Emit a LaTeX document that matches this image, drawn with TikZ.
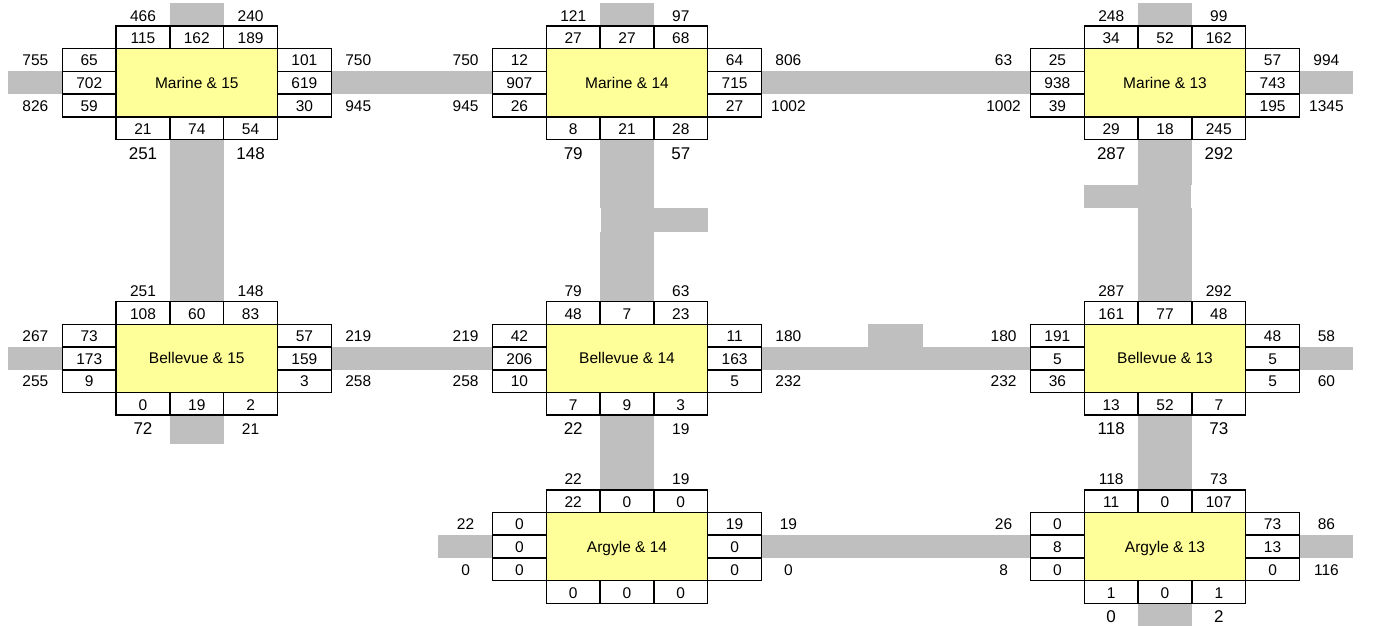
\documentclass[tikz,border=0pt]{standalone}
\usepackage{fontspec}
\setmainfont{Liberation Sans}
\usetikzlibrary{positioning,backgrounds}
\definecolor{RoadGrey}{HTML}{BFBFBF}
\definecolor{BoxYellow}{HTML}{FFFF99}

% one intersection: the yellow box, then the ring of counts on each side
\newcommand{\junction}[4]{\node[yellowbox] (#1) at (#2,#3) {#4};}
\newcommand{\topcells}[6]{
  \node[vcell, above=0pt of #1] (#1t2) {#3};
  \node[vcell, left=0pt of #1t2] (#1t1) {#2};
  \node[vcell, right=0pt of #1t2] (#1t3) {#4};
  \node[outer, text height=12.8pt, above=0pt of #1t1] (#1o1) {#5};
  \node[outer, text height=12.8pt, above=0pt of #1t3] (#1o2) {#6};
}
\newcommand{\botcells}[4]{
  \node[vcell, below=0pt of #1] (#1b2) {#3};
  \node[vcell, left=0pt of #1b2] (#1b1) {#2};
  \node[vcell, right=0pt of #1b2] (#1b3) {#4};
}
\newcommand{\botouter}[3]{
  \node[bigouter, below=0pt of #1b1] (#1o3) {#2};
  \node[bigouter, below=0pt of #1b3] (#1o4) {#3};
}
\newcommand{\leftcells}[6]{
  \node[cellbox, left=0pt of #1] (#1l2) {#3};
  \node[cellbox, above=0pt of #1l2] (#1l1) {#2};
  \node[cellbox, below=0pt of #1l2] (#1l3) {#4};
  \node[outer, left=0pt of #1l1] (#1o5) {#5};
  \node[outer, left=0pt of #1l3] (#1o6) {#6};
}
\newcommand{\rightcells}[6]{
  \node[cellbox, right=0pt of #1] (#1r2) {#3};
  \node[cellbox, above=0pt of #1r2] (#1r1) {#2};
  \node[cellbox, below=0pt of #1r2] (#1r3) {#4};
  \node[outer, right=0pt of #1r1] (#1o7) {#5};
  \node[outer, right=0pt of #1r3] (#1o8) {#6};
}
\newcommand{\plain}{\fontsize{15.5}{15.5}\selectfont}

\begin{document}
\begin{tikzpicture}[
    x=1pt, y=-1pt,
    cellbox/.style={
      draw=black, line width=1.5pt, fill=white,
      minimum width=53.8pt, minimum height=22.7pt,
      text height=11.7pt, text depth=0pt,
      inner sep=0pt, outer sep=0pt, font=\plain
    },
    vcell/.style={cellbox, text height=12.8pt},
    yellowbox/.style={
      draw=black, line width=1.5pt, fill=BoxYellow,
      minimum width=161.4pt, minimum height=68.1pt,
      text height=11.1pt, text depth=0pt,
      inner sep=0pt, outer sep=0pt, font=\plain
    },
    outer/.style={
      minimum width=53.8pt, minimum height=22.7pt,
      text height=11.7pt, text depth=0pt,
      inner sep=0pt, outer sep=0pt, font=\plain
    },
    bigouter/.style={outer, text height=16.2pt, font=\fontsize{17}{17}\selectfont},
    road/.style={draw=RoadGrey, line width=23pt},
    roadns/.style={road, line width=54pt},
    stubbox/.style={fill=RoadGrey, inner sep=0pt, outer sep=0pt}
  ]
  \useasboundingbox (0,0) rectangle (1385,626);

  % Marine row
  \junction{m15}{196.8}{82.8}{Marine \& 15}
  \topcells{m15}{115}{162}{189}{466}{240}
  \leftcells{m15}{65}{702}{59}{755}{826}
  \rightcells{m15}{101}{619}{30}{750}{945}
  \botcells{m15}{21}{74}{54}
  \botouter{m15}{251}{148}

  \junction{m14}{627}{82.8}{Marine \& 14}
  \topcells{m14}{27}{27}{68}{121}{97}
  \leftcells{m14}{12}{907}{26}{750}{945}
  \rightcells{m14}{64}{715}{27}{806}{1002}
  \botcells{m14}{8}{21}{28}
  \botouter{m14}{79}{57}

  \junction{m13}{1165}{82.8}{Marine \& 13}
  \topcells{m13}{34}{52}{162}{248}{99}
  \leftcells{m13}{25}{938}{39}{63}{1002}
  \rightcells{m13}{57}{743}{195}{994}{1345}
  \botcells{m13}{29}{18}{245}
  \botouter{m13}{287}{292}

  % Bellevue row
  \junction{b15}{196.8}{358.4}{Bellevue \& 15}
  \topcells{b15}{108}{60}{83}{251}{148}
  \leftcells{b15}{73}{173}{9}{267}{255}
  \rightcells{b15}{57}{159}{3}{219}{258}
  \botcells{b15}{0}{19}{2}
  \botouter{b15}{72}{\plain 21}

  \junction{b14}{627}{358.4}{Bellevue \& 14}
  \topcells{b14}{48}{7}{23}{79}{63}
  \leftcells{b14}{42}{206}{10}{219}{258}
  \rightcells{b14}{11}{163}{5}{180}{232}
  \botcells{b14}{7}{9}{3}
  \botouter{b14}{22}{\plain 19}

  \junction{b13}{1165}{358.4}{Bellevue \& 13}
  \topcells{b13}{161}{77}{48}{287}{292}
  \leftcells{b13}{191}{5}{36}{180}{232}
  \rightcells{b13}{48}{5}{5}{58}{60}
  \botcells{b13}{13}{52}{7}
  \botouter{b13}{118}{73}

  % Argyle row
  \junction{a14}{627}{546.5}{Argyle \& 14}
  \topcells{a14}{22}{0}{0}{22}{19}
  \leftcells{a14}{0}{0}{0}{22}{0}
  \rightcells{a14}{19}{0}{0}{19}{0}
  \botcells{a14}{0}{0}{0}

  \junction{a13}{1165}{546.5}{Argyle \& 13}
  \topcells{a13}{11}{0}{107}{118}{73}
  \leftcells{a13}{0}{8}{0}{26}{8}
  \rightcells{a13}{73}{13}{0}{86}{116}
  \botcells{a13}{1}{0}{1}
  \botouter{a13}{0}{2}

  % Road ends
  \coordinate (m15w) at (8,82.8);
  \coordinate (m13e) at (1353,82.8);
  \coordinate (b15w) at (8,358.4);
  \coordinate (b13e) at (1353,358.4);
  \coordinate (a14w) at (438,546.5);
  \coordinate (a13e) at (1353,546.5);
  \coordinate (m15n) at (196.8,3);
  \coordinate (m14n) at (627,3);
  \coordinate (m13n) at (1165,3);
  \coordinate (b15s) at (196.8,444);
  \coordinate (a13s) at (1165,626);

  \begin{scope}[on background layer]
    % Turn bays and the stub on Bellevue
    \node[stubbox, minimum width=107pt, minimum height=24pt] (bay14) at (654.5,220) {};
    \node[stubbox, minimum width=107pt, minimum height=23pt] (bay13) at (1137.5,196.5) {};
    \node[stubbox, minimum width=55pt, minimum height=23pt] (bayb) at (895.5,335.5) {};

    % East-west roads
    \draw[road] (m15w) -- (m15l2.west);
    \draw[road] (m15r2.east) -- (m14l2.west);
    \draw[road] (m14r2.east) -- (m13l2.west);
    \draw[road] (m13r2.east) -- (m13e);
    \draw[road] (b15w) -- (b15l2.west);
    \draw[road] (b15r2.east) -- (b14l2.west);
    \draw[road] (b14r2.east) -- (b13l2.west);
    \draw[road] (b13r2.east) -- (b13e);
    \draw[road] (a14w) -- (a14l2.west);
    \draw[road] (a14r2.east) -- (a13l2.west);
    \draw[road] (a13r2.east) -- (a13e);

    % North-south roads
    \draw[roadns] (m15n) -- (m15t2.north);
    \draw[roadns] (m14n) -- (m14t2.north);
    \draw[roadns] (m13n) -- (m13t2.north);
    \draw[roadns] (m15b2.south) -- (b15t2.north);
    \draw[roadns] (m14b2.south) -- (m14b2.south |- bay14.north);
    \draw[roadns] (m14b2.south |- bay14.south) -- (b14t2.north);
    \draw[roadns] (m13b2.south) -- (m13b2.south |- bay13.north);
    \draw[roadns] (m13b2.south |- bay13.south) -- (b13t2.north);
    \draw[roadns] (b15b2.south) -- (b15s);
    \draw[roadns] (b14b2.south) -- (a14t2.north);
    \draw[roadns] (b13b2.south) -- (a13t2.north);
    \draw[roadns] (a13b2.south) -- (a13s);
  \end{scope}

\end{tikzpicture}
\end{document}
